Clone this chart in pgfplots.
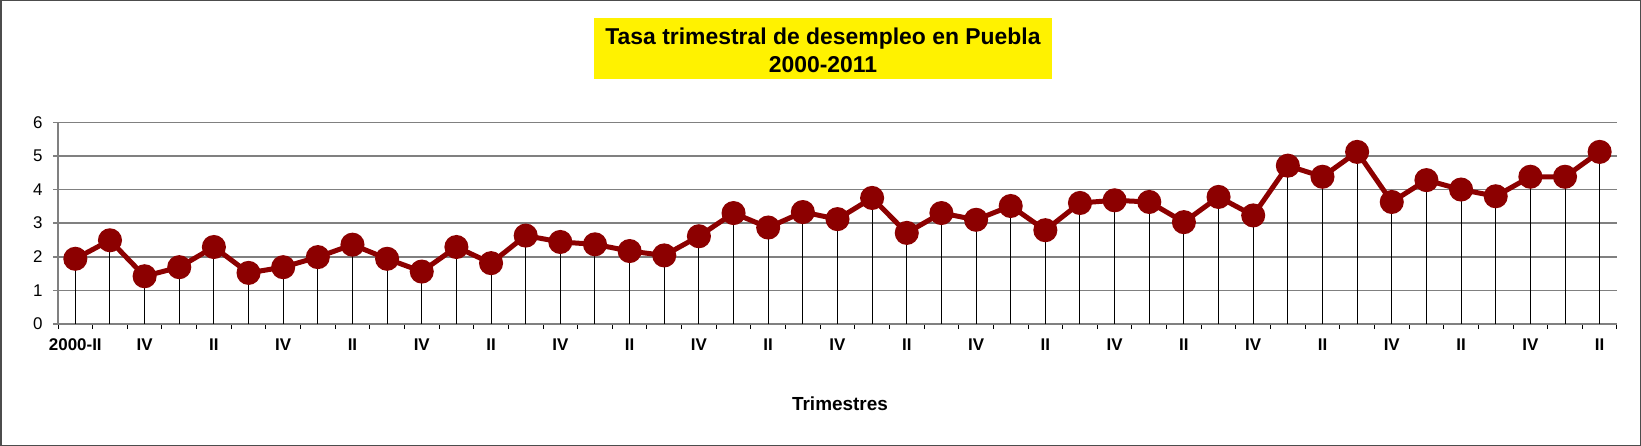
\documentclass[border=0pt]{standalone}
\usepackage{pgfplots}
\usepackage{pgfplotstable}
\pgfplotsset{compat=1.18}
\usepackage{fontspec}
\setmainfont{Liberation Sans}
\definecolor{lineRed}{RGB}{140,0,0}
\definecolor{titleYellow}{RGB}{255,242,0}
\definecolor{gridGray}{RGB}{128,128,128}
\pgfplotstableread{
x y
0 1.94
1 2.49
2 1.42
3 1.69
4 2.29
5 1.52
6 1.69
7 1.99
8 2.36
9 1.94
10 1.56
11 2.29
12 1.81
13 2.63
14 2.44
15 2.37
16 2.17
17 2.04
18 2.61
19 3.30
20 2.87
21 3.33
22 3.12
23 3.75
24 2.71
25 3.30
26 3.10
27 3.51
28 2.79
29 3.60
30 3.68
31 3.63
32 3.03
33 3.78
34 3.23
35 4.71
36 4.38
37 5.12
38 3.63
39 4.28
40 4.00
41 3.80
42 4.38
43 4.38
44 5.12
}\datatable
\begin{document}
\begin{tikzpicture}
\useasboundingbox (0,0) rectangle (1641bp,446bp);
\draw[line width=1.5bp, draw=black!70] (0.75bp,0.75bp) rectangle (1640.25bp,445.25bp);
\begin{axis}[
  at={(58bp,122bp)}, anchor=south west,
  scale only axis, width=1559bp, height=201.7bp,
  xmin=-0.5, xmax=44.5, ymin=0, ymax=6,
  clip=false,
  axis x line*=bottom, axis y line*=left,
  axis line style={draw=gridGray, line width=1.5bp},
  ytick={0,1,...,6},
  ymajorgrids, grid style={draw=gridGray, line width=1.6bp},
  xtick={0,2,...,44},
  xticklabels={2000-II,IV,II,IV,II,IV,II,IV,II,IV,II,IV,II,IV,II,IV,II,IV,II,IV,II,IV,II},
  minor xtick={-0.5,0.5,...,44.5},
  tick align=outside,
  major tick length=5bp, minor tick length=5bp,
  major x tick style={draw=none},
  minor x tick style={draw=black, line width=1bp},
  y tick style={draw=gridGray, line width=1.5bp},
  /pgf/number format/assume math mode=true,
  yticklabel style={font=\fontsize{17}{20}\selectfont, xshift=-7bp},
  xticklabel style={font=\bfseries\fontsize{17}{20}\selectfont, anchor=base, yshift=-21bp},
  xlabel={Trimestres},
  xlabel style={font=\bfseries\fontsize{19}{22}\selectfont, at={(axis description cs:0.5016,-0.4264)}, anchor=base},
  every axis title shift=0pt,
  title={\rule{0pt}{21.5bp}Tasa trimestral de desempleo en Puebla\\2000-2011},
  title style={font=\bfseries\fontsize{23}{28}\selectfont, fill=titleYellow, align=center,
    at={(axis description cs:0.4907,1.367)}, anchor=center,
    minimum width=458bp, minimum height=61.5bp, inner sep=0pt},
]
\addplot[ycomb, black, line width=1bp, no markers] table[x=x,y=y] {\datatable};
\addplot[lineRed, line width=5bp, mark=*, mark size=9.5bp,
  mark options={draw=none, fill=lineRed}] table[x=x,y=y] {\datatable};
\end{axis}
\end{tikzpicture}
\end{document}
